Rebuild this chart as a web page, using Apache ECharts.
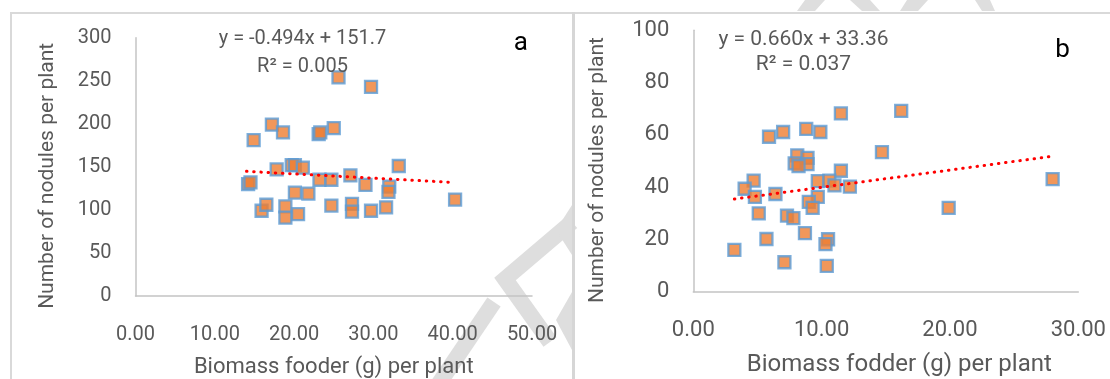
<!DOCTYPE html>
<html>
<head>
<meta charset="utf-8">
<script src="https://cdn.jsdelivr.net/npm/echarts@6/dist/echarts.min.js"></script>
<style>
html,body{margin:0;padding:0;background:#fff;}
#c{width:1110px;height:379px;}
</style>
</head>
<body>
<div id="c"></div>
<script>
// ---- Panel a ----
const xA = [25.6, 29.7, 17.2, 18.6, 14.9, 23.1, 23.3, 25.0, 33.2, 19.7, 20.1, 21.1, 17.8, 27.1, 23.2, 24.7, 14.2, 14.5, 29.0, 32.0, 31.9, 20.1, 21.8, 15.9, 16.5, 18.9, 18.9, 20.5, 24.7, 27.3, 27.3, 29.7, 31.6, 40.3];
const yA = [254, 243, 199, 190, 181, 188, 190, 195, 151, 152, 152, 149, 147, 140, 135, 135, 130, 132, 129, 127, 121, 120, 119, 99, 106, 104, 91, 95, 105, 107, 98, 99, 103, 112];
const slopeA = -0.494, interceptA = 151.7;
const trendRangeA = [14.0, 39.7];
const xTicksA = [0, 50, 10];   // min, max, interval
const yTicksA = [0, 300, 50];
const eqA = ['y = -0.494x + 151.7', 'R\u00B2 = 0.005'];

// ---- Panel b ----
const xB = [11.5, 16.2, 5.9, 7.0, 8.8, 9.9, 14.7, 8.1, 7.9, 8.9, 8.9, 8.2, 11.5, 4.7, 4.0, 4.8, 6.4, 9.7, 10.6, 11.0, 12.2, 9.7, 9.0, 9.3, 5.1, 7.3, 7.8, 8.7, 5.7, 10.5, 10.3, 3.2, 7.1, 10.4, 19.9, 28.0];
const yB = [68.2, 69.2, 59.3, 61.1, 62.3, 61.1, 53.4, 52.2, 49.1, 51.2, 48.8, 48.1, 46.3, 42.5, 39.4, 36.3, 37.4, 42.3, 42.5, 40.7, 40.2, 36.3, 34.4, 32.1, 30.0, 29.1, 28.2, 22.4, 20.2, 20.1, 18.2, 16.0, 11.3, 9.9, 32.1, 43.1];
const slopeB = 0.660, interceptB = 33.36;
const trendRangeB = [3.2, 27.9];
const xTicksB = [0, 30, 10];
const yTicksB = [0, 100, 20];
const eqB = ['y = 0.660x + 33.36', 'R\u00B2 = 0.037'];

const yTitle = 'Number of nodules per plant';
const xTitleA = 'Biomass fooder (g) per plant';
const xTitleB = 'Biomass fodder (g) per plant';
const panelLabels = ['a', 'b'];

// ---- build ----
const pairs = (xs, ys) => xs.map((x, i) => [x, ys[i]]);
const trend = (r, m, b) => r.map(x => [x, m * x + b]);

const GREY = '#595959';
const FONT = 'Roboto';
const WM = '#dedede';

function xAxisCfg(grid, t, name, fs, tfs, margin, gap, pad) {
  return {
    gridIndex: grid, type: 'value', min: t[0], max: t[1], interval: t[2],
    axisLine: { show: true, onZero: false, lineStyle: { color: '#c4c4c4', width: 1.5 } },
    axisTick: { show: false }, splitLine: { show: false },
    axisLabel: { formatter: v => v.toFixed(2), color: GREY, fontSize: fs, fontFamily: FONT, margin: margin },
    name: name, nameLocation: 'middle', nameGap: gap,
    nameTextStyle: { color: GREY, fontSize: tfs, fontFamily: FONT, padding: pad }
  };
}
function yAxisCfg(grid, t, fs, tfs, gap) {
  return {
    gridIndex: grid, type: 'value', min: t[0], max: t[1], interval: t[2],
    axisLine: { show: true, lineStyle: { color: '#c4c4c4', width: 1.5 } },
    axisTick: { show: false }, splitLine: { show: false },
    axisLabel: { color: GREY, fontSize: fs, fontFamily: FONT, margin: 24, padding: [0, 0, 5, 0] },
    name: yTitle, nameLocation: 'middle', nameGap: gap,
    nameTextStyle: { color: GREY, fontSize: tfs, fontFamily: FONT, padding: [0, 18, 0, 0] }
  };
}
const markerStyle = { color: '#ED7D31', borderColor: '#5B9BD5', borderWidth: 2.3 };
const trendStyle = { color: '#FF0000', width: 3, type: [0.5, 6.7], cap: 'round' };

function band(points, w) {
  return { type: 'polyline', shape: { points: points }, style: { stroke: WM, lineWidth: w, fill: null }, silent: true, z: -10 };
}
function poly(points) {
  return { type: 'polygon', shape: { points: points }, style: { fill: WM }, silent: true, z: -10 };
}

const option = {
  animation: false,
  backgroundColor: '#ffffff',
  grid: [
    { left: 135.5, top: 37.7, width: 396.5, height: 258.3, containLabel: false, outerBoundsMode: 'none' },
    { left: 693.3, top: 30.3, width: 385, height: 261.5, containLabel: false, outerBoundsMode: 'none' }
  ],
  xAxis: [
    xAxisCfg(0, xTicksA, xTitleA, 20, 22, 29, 60, [0, 0, 0, 0]),
    xAxisCfg(1, xTicksB, xTitleB, 22, 24, 28, 61, [0, 0, 0, 27])
  ],
  yAxis: [
    yAxisCfg(0, yTicksA, 20, 21, 77),
    yAxisCfg(1, yTicksB, 22, 21, 85)
  ],
  series: [
    { type: 'scatter', xAxisIndex: 0, yAxisIndex: 0, data: pairs(xA, yA), symbol: 'rect', symbolSize: 12, itemStyle: markerStyle, z: 2 },
    { type: 'line', xAxisIndex: 0, yAxisIndex: 0, data: trend(trendRangeA, slopeA, interceptA), showSymbol: false, symbol: 'none', lineStyle: trendStyle, z: 3 },
    { type: 'scatter', xAxisIndex: 1, yAxisIndex: 1, data: pairs(xB, yB), symbol: 'rect', symbolSize: 12, itemStyle: markerStyle, z: 2 },
    { type: 'line', xAxisIndex: 1, yAxisIndex: 1, data: trend(trendRangeB, slopeB, interceptB), showSymbol: false, symbol: 'none', lineStyle: trendStyle, z: 3 }
  ],
  graphic: [
    // faint watermark shapes
    band([[572, 222], [505, 279], [550, 342]], 16),
    band([[438, 385], [494, 302]], 16),
    poly([[572, 205], [556, 230], [572, 255]]),
    poly([[572, 292], [556, 320], [572, 350]]),
    poly([[805, 0], [825, 0], [815, 11], [797, 11]]),
    poly([[850, 0], [870, 0], [880, 11], [862, 11]]),
    poly([[907, 0], [928, 0], [918, 11], [900, 11]]),
    poly([[975, 0], [990, 0], [995, 11], [982, 11]]),
    // frames
    { type: 'rect', shape: { x: 10, y: 12, width: 1100, height: 2 }, style: { fill: '#d9d9d9' }, silent: true },
    { type: 'rect', shape: { x: 10, y: 12, width: 2, height: 367 }, style: { fill: '#d9d9d9' }, silent: true },
    { type: 'rect', shape: { x: 572, y: 12, width: 3, height: 367 }, style: { fill: '#d6d6d6' }, silent: true },
    // equations
    { type: 'text', x: 302.5, y: 39, style: { text: eqA[0], fill: GREY, font: '20px Roboto', align: 'center', verticalAlign: 'middle' }, z: 10 },
    { type: 'text', x: 302.5, y: 66.7, style: { text: eqA[1], fill: GREY, font: '20px Roboto', align: 'center', verticalAlign: 'middle' }, z: 10 },
    { type: 'text', x: 803.5, y: 39.3, style: { text: eqB[0], fill: GREY, font: '21px Roboto', align: 'center', verticalAlign: 'middle' }, z: 10 },
    { type: 'text', x: 803.5, y: 65, style: { text: eqB[1], fill: GREY, font: '21px Roboto', align: 'center', verticalAlign: 'middle' }, z: 10 },
    // panel letters
    { type: 'text', x: 520.7, y: 43.3, style: { text: panelLabels[0], fill: '#000', font: '26px Roboto', align: 'center', verticalAlign: 'middle' }, z: 10 },
    { type: 'text', x: 1062.5, y: 50, style: { text: panelLabels[1], fill: '#000', font: '26px Roboto', align: 'center', verticalAlign: 'middle' }, z: 10 }
  ]
};

const chart = echarts.init(document.getElementById('c'), null, { renderer: 'canvas' });
chart.setOption(option);
</script>
</body>
</html>
